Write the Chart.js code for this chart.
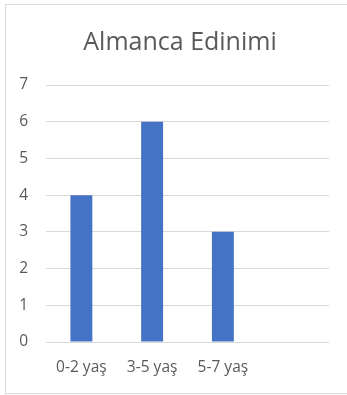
<!DOCTYPE html>
<html>
<head>
<meta charset="utf-8">
<script src="https://cdn.jsdelivr.net/npm/chart.js@4/dist/chart.umd.min.js"></script>
<style>
  html, body { margin: 0; padding: 0; background: #ffffff; }
  #wrap { position: relative; width: 347px; height: 395px; overflow: hidden; }
  #frame {
    position: absolute; left: 5px; top: 4px; width: 360px; height: 388px;
    border: 1px solid #d9d9d9; pointer-events: none;
  }
  canvas { position: absolute; left: 0; top: 0; }
</style>
</head>
<body>
<div id="wrap">
  <canvas id="c" width="360" height="395"></canvas>
  <div id="frame"></div>
</div>
<script>
// Age groups on the x axis (the last slot is left empty)
const categories = ["0-2 yaş", "3-5 yaş", "5-7 yaş", ""];
// Values per age group
const values = [4, 6, 3, null];
// Value axis range
const yMin = 0;
const yMax = 7;
const yStep = 1;

const FONT = "'Open Sans', 'Liberation Sans', sans-serif";
const TEXT = "#595959";

new Chart(document.getElementById("c"), {
  type: "bar",
  data: {
    labels: categories,
    datasets: [{
      label: "Almanca Edinimi",
      data: values,
      backgroundColor: "#4472c4",
      borderWidth: 0,
      categoryPercentage: 1,
      barPercentage: 0.31
    }]
  },
  options: {
    responsive: false,
    animation: false,
    devicePixelRatio: 1,
    layout: { padding: 0 },
    plugins: {
      legend: { display: false },
      tooltip: { enabled: false },
      title: {
        display: true,
        text: "Almanca Edinimi",
        color: TEXT,
        font: { family: FONT, size: 25, weight: "normal", lineHeight: 1.2 },
        padding: { top: 28, bottom: 27 }
      }
    },
    scales: {
      x: {
        grid: { display: false, drawTicks: false },
        border: { display: false },
        ticks: {
          color: TEXT,
          font: { family: FONT, size: 15.5 },
          padding: 16,
          maxRotation: 0,
          autoSkip: false
        },
        afterFit: (s) => { s.height = 53; }
      },
      y: {
        min: yMin,
        max: yMax,
        grid: { color: "#d9d9d9", lineWidth: 1, drawTicks: false },
        border: { display: false },
        ticks: {
          stepSize: yStep,
          color: TEXT,
          font: { family: FONT, size: 15.5 },
          padding: 18
        },
        afterFit: (s) => { s.width = 46; }
      },
      // empty margin on the right of the plot
      yRight: {
        position: "right",
        min: yMin,
        max: yMax,
        grid: { display: false, drawTicks: false },
        border: { display: false },
        ticks: { display: false },
        afterFit: (s) => { s.width = 31; }
      }
    }
  }
});
</script>
</body>
</html>
